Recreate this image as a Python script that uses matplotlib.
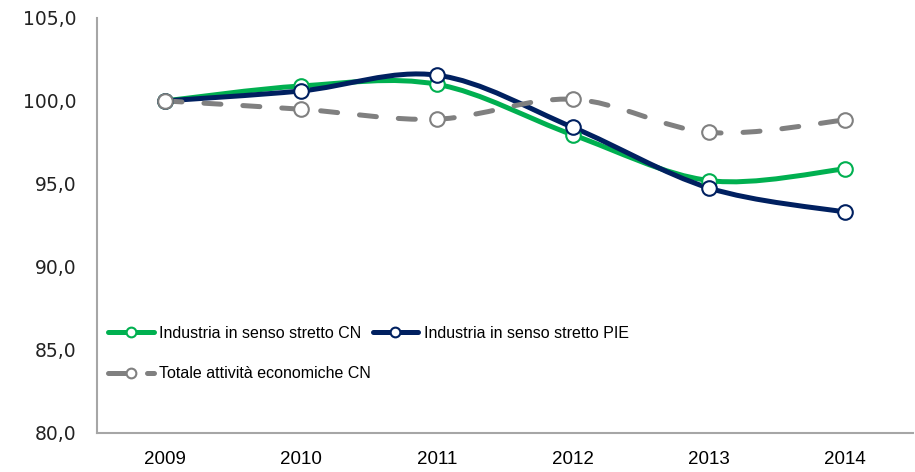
import matplotlib.pyplot as plt
import numpy as np
from matplotlib.path import Path
from matplotlib.patches import PathPatch
from matplotlib.lines import Line2D
from matplotlib.ticker import FuncFormatter

years = ['2009', '2010', '2011', '2012', '2013', '2014']
ind_cn = [100.0, 100.9, 101.0, 97.95, 95.2, 95.9]
ind_pie = [100.0, 100.6, 101.55, 98.4, 94.75, 93.3]
tot_cn = [100.0, 99.5, 98.9, 100.1, 98.1, 98.85]

green = '#00B050'
navy = '#002060'
grey = '#808080'


def smooth_path(xs, ys):
    # excel style smoothed line: bezier segments with catmull-rom control points
    pts = np.column_stack([xs, ys]).astype(float)
    n = len(pts)
    verts = [pts[0]]
    codes = [Path.MOVETO]
    for i in range(n - 1):
        p0 = pts[max(i - 1, 0)]
        p1 = pts[i]
        p2 = pts[i + 1]
        p3 = pts[min(i + 2, n - 1)]
        c1 = p1 + (p2 - p0) / 6.0
        c2 = p2 - (p3 - p1) / 6.0
        verts += [c1, c2, p2]
        codes += [Path.CURVE4] * 3
    return Path(verts, codes)


fig, ax = plt.subplots(figsize=(9.15, 4.72), dpi=100)
fig.subplots_adjust(left=0.106, right=0.998, top=0.962, bottom=0.083)

x = np.arange(len(years))
series = [
    (ind_cn, green, 'solid', 'Industria in senso stretto CN'),
    (ind_pie, navy, 'solid', 'Industria in senso stretto PIE'),
    (tot_cn, grey, (0, (3.4, 4.4)), 'Totale attività economiche CN'),
]
handles = []
for vals, col, ls, lab in series:
    patch = PathPatch(smooth_path(x, vals), facecolor='none', edgecolor=col,
                      lw=3.6, linestyle=ls, capstyle='round', joinstyle='round', zorder=2)
    ax.add_patch(patch)
    ax.plot(x, vals, linestyle='none', marker='o', markersize=10.5,
            markerfacecolor='white', markeredgecolor=col, markeredgewidth=1.5, zorder=3)
    h = Line2D([0], [0], color=col, lw=3.6, linestyle=ls, dash_capstyle='round',
               solid_capstyle='round', marker='o', markersize=7,
               markerfacecolor='white', markeredgecolor=col, markeredgewidth=1.5)
    handles.append(h)

ax.set_xlim(-0.5, 5.5)
ax.set_ylim(80, 105)
ax.set_yticks([80, 85, 90, 95, 100, 105])
ax.yaxis.set_major_formatter(FuncFormatter(lambda v, p: f'{v:.1f}'.replace('.', ',')))
ax.set_xticks(x)
ax.set_xticklabels(years, family='Liberation Sans', fontsize=13.5)
for t in ax.get_yticklabels():
    t.set_fontsize(13.5)
    t.set_color('#222222')
ax.tick_params(length=0)
ax.tick_params(axis='y', pad=15)
ax.tick_params(axis='x', pad=13)

for s in ['top', 'right']:
    ax.spines[s].set_visible(False)
for s in ['left', 'bottom']:
    ax.spines[s].set_color('#A6A6A6')
    ax.spines[s].set_linewidth(1.5)

# row-major order: green, navy on first row, grey below
order = [0, 2, 1]
leg = ax.legend(handles=[handles[i] for i in order], labels=[series[i][3] for i in order], ncol=2,
                loc='lower left', bbox_to_anchor=(-0.004, 0.09), frameon=False,
                handlelength=2.85, handletextpad=0.35, columnspacing=0.1,
                labelspacing=1.6, prop={'family': 'Liberation Sans', 'size': 11.5})

fig.savefig('out.png', dpi=100)
